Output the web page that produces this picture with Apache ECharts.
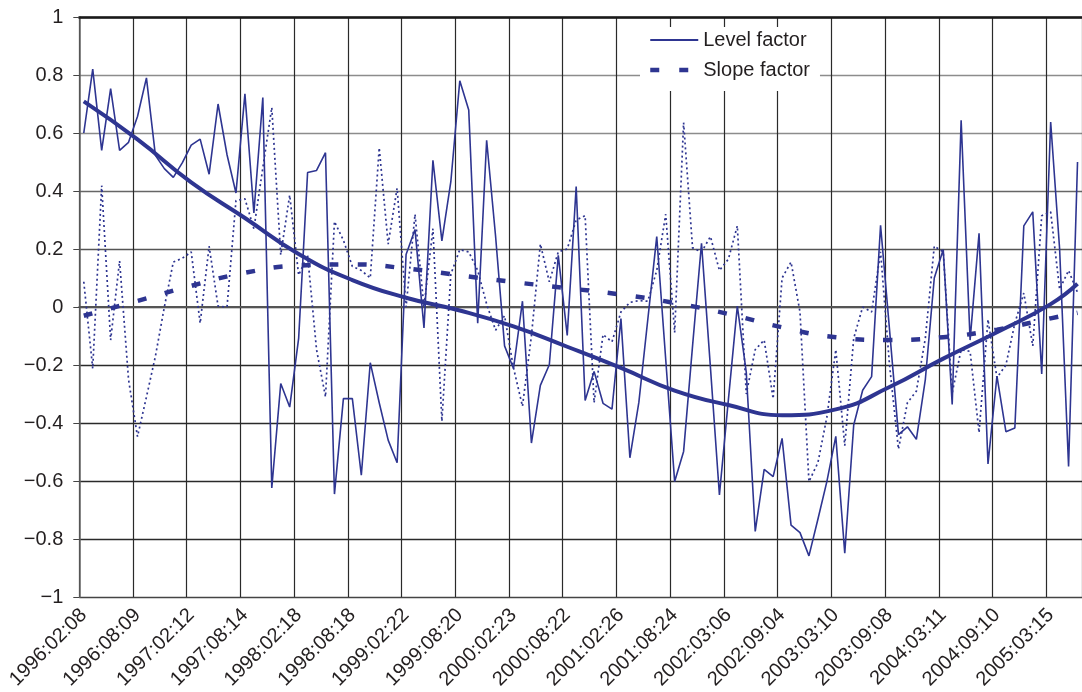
<!DOCTYPE html>
<html>
<head>
<meta charset="utf-8">
<script src="https://cdn.jsdelivr.net/npm/echarts@6/dist/echarts.min.js"></script>
<style>
  html, body { margin: 0; padding: 0; background: #fff; }
  #chart { width: 1082px; height: 692px; }
</style>
</head>
<body>
<div id="chart"></div>
<script>
// tick labels of the time axis, one every 6 observations
const tickLabels = [
  '1996:02:08', '1996:08:09', '1997:02:12', '1997:08:14', '1998:02:18',
  '1998:08:18', '1999:02:22', '1999:08:20', '2000:02:23', '2000:08:22',
  '2001:02:26', '2001:08:24', '2002:03:06', '2002:09:04', '2003:03:10',
  '2003:09:08', '2004:03:11', '2004:09:10', '2005:03:15'
];
const yTickLabels = ['\u22121', '\u22120.8', '\u22120.6', '\u22120.4', '\u22120.2', '0',
  '0.2', '0.4', '0.6', '0.8', '1'];

// monthly level factor (thin solid)
const level = [
  0.60, 0.82, 0.54, 0.753, 0.54, 0.568,
  0.657, 0.79, 0.523, 0.477, 0.447, 0.497,
  0.558, 0.579, 0.458, 0.70, 0.525, 0.393,
  0.735, 0.324, 0.722, -0.624, -0.264, -0.345,
  -0.108, 0.464, 0.471, 0.532, -0.645, -0.316,
  -0.316, -0.58, -0.192, -0.33, -0.459, -0.537,
  0.181, 0.267, -0.072, 0.506, 0.228, 0.432,
  0.78, 0.679, -0.056, 0.575, 0.243, -0.134,
  -0.212, 0.02, -0.469, -0.27, -0.199, 0.178,
  -0.098, 0.415, -0.322, -0.222, -0.332, -0.352,
  -0.04, -0.52, -0.329, -0.043, 0.243, -0.18,
  -0.602, -0.498, -0.134, 0.22, -0.21, -0.648,
  -0.32, 0.003, -0.225, -0.774, -0.56, -0.585,
  -0.453, -0.752, -0.778, -0.858, -0.732, -0.602,
  -0.446, -0.849, -0.407, -0.287, -0.24, 0.282,
  -0.078, -0.44, -0.413, -0.456, -0.25, 0.10,
  0.198, -0.336, 0.644, -0.114, 0.254, -0.541,
  -0.238, -0.43, -0.417, 0.28, 0.328, -0.231,
  0.638, 0.2, -0.55, 0.5
];

// monthly slope factor (thin dotted)
const slope = [
  0.087, -0.212, 0.419, -0.114, 0.159, -0.25,
  -0.447, -0.31, -0.17, 0.0, 0.155, 0.168,
  0.19, -0.056, 0.21, 0.003, 0.0, 0.367,
  0.373, 0.27, 0.48, 0.688, 0.18, 0.386,
  0.11, 0.178, -0.147, -0.31, 0.295, 0.23,
  0.14, 0.126, 0.1, 0.549, 0.217, 0.41,
  0.0, 0.32, 0.0, 0.27, -0.394, 0.113,
  0.198, 0.19, 0.126, 0.01, -0.08, -0.03,
  -0.21, -0.342, -0.1, 0.217, 0.087, 0.19,
  0.2, 0.30, 0.315, -0.33, -0.095, -0.12,
  -0.017, 0.016, 0.022, 0.02, 0.126, 0.32,
  -0.088, 0.636, 0.204, 0.19, 0.243, 0.126,
  0.165, 0.28, -0.30, -0.147, -0.114, -0.316,
  0.10, 0.155, -0.017, -0.602, -0.537, -0.38,
  -0.147, -0.478, -0.108, 0.0, -0.017, 0.19,
  -0.2, -0.49, -0.33, -0.29, -0.108, 0.21,
  0.19, -0.296, -0.147, -0.153, -0.433, -0.043,
  -0.244, -0.2, -0.056, 0.048, -0.134, 0.315,
  0.328, 0.061, 0.126, 0.05
];

// smooth trends, read at every 6th observation
const trendIdx = [0, 6, 12, 18, 24, 30, 36, 42, 48, 54, 60, 66, 72, 78, 84, 90, 96, 102, 108, 111];
const levelTrend = [0.709, 0.578, 0.43, 0.307, 0.183, 0.093, 0.032, -0.012, -0.067, -0.137,
  -0.21, -0.288, -0.338, -0.373, -0.353, -0.276, -0.178, -0.087, 0.01, 0.08];
const slopeTrend = [-0.03, 0.021, 0.073, 0.118, 0.143, 0.147, 0.133, 0.109, 0.086, 0.065,
  0.043, 0.014, -0.024, -0.07, -0.104, -0.114, -0.104, -0.078, -0.039, -0.02];

const categories = level.map((v, i) => (i % 6 === 0 ? tickLabels[i / 6] : ''));
const navy = '#2e3591';
const txt = '#231f20';
const font = 'Liberation Sans, Arial, Helvetica, sans-serif';

const chart = echarts.init(document.getElementById('chart'));
chart.setOption({
  animation: false,
  backgroundColor: '#fff',
  grid: { left: 79.3, top: 17, right: -5.3, bottom: 94.7 },
  legend: {
    orient: 'vertical',
    left: 640,
    top: 27,
    padding: [3, 10, 11, 8],
    itemGap: 10,
    itemWidth: 48,
    itemHeight: 14,
    backgroundColor: '#fff',
    itemStyle: { opacity: 0 },
    textStyle: { color: txt, fontSize: 20, fontFamily: font, lineHeight: 20 },
    data: [
      { name: 'Level factor', itemStyle: { opacity: 0 }, lineStyle: { width: 2, type: 'solid', color: navy } },
      { name: 'Slope factor', itemStyle: { opacity: 0 }, lineStyle: { width: 4.5, type: [9, 20], color: navy } }
    ]
  },
  xAxis: [
    {
      type: 'category',
      data: categories,
      boundaryGap: true,
      axisLine: { lineStyle: { color: '#555', width: 2 } },
      axisTick: { show: false },
      splitLine: { show: true, interval: 5, lineStyle: { color: '#2a2a2a', width: 1.2 } },
      axisLabel: {
        interval: 5,
        rotate: 45,
        margin: 15,
        color: txt,
        fontSize: 20,
        fontFamily: font
      }
    },
    {
      type: 'category',
      data: categories,
      position: 'top',
      axisLine: { lineStyle: { color: '#1a1a1a', width: 2.5 } },
      axisTick: { show: false },
      axisLabel: { show: false },
      splitLine: { show: false }
    }
  ],
  yAxis: {
    type: 'value',
    min: -1,
    max: 1,
    interval: 0.2,
    axisLine: { show: true, lineStyle: { color: '#666', width: 1.5 } },
    axisTick: { show: true, length: 6, lineStyle: { color: '#444' } },
    splitLine: {
      lineStyle: {
        width: 1.3,
        color: ['#444', '#2a2a2a', '#2a2a2a', '#2a2a2a', '#2a2a2a', '#2a2a2a',
          '#555', '#666', '#8c8c8c', '#8c8c8c', '#1a1a1a']
      }
    },
    axisLabel: {
      margin: 16,
      color: txt,
      fontSize: 20,
      fontFamily: font,
      formatter: (v, i) => yTickLabels[i]
    }
  },
  series: [
    {
      name: 'Level factor',
      type: 'line',
      data: level,
      symbol: 'none',
      z: 3,
      lineStyle: { color: navy, width: 1.6 },
      itemStyle: { color: navy }
    },
    {
      name: 'Slope factor (monthly)',
      type: 'line',
      data: slope,
      symbol: 'none',
      z: 3,
      lineStyle: { color: navy, width: 1.7, type: [2, 3] },
      itemStyle: { color: navy }
    },
    {
      name: 'Level trend',
      type: 'line',
      data: trendIdx.map((x, i) => [x, levelTrend[i]]),
      symbol: 'none',
      smooth: true,
      z: 4,
      lineStyle: { color: navy, width: 4 },
      itemStyle: { color: navy }
    },
    {
      name: 'Slope factor',
      type: 'line',
      data: trendIdx.map((x, i) => [x, slopeTrend[i]]),
      symbol: 'none',
      smooth: true,
      z: 4,
      lineStyle: { color: navy, width: 4.5, type: [9, 19] },
      itemStyle: { color: navy }
    }
  ]
});
</script>
</body>
</html>
